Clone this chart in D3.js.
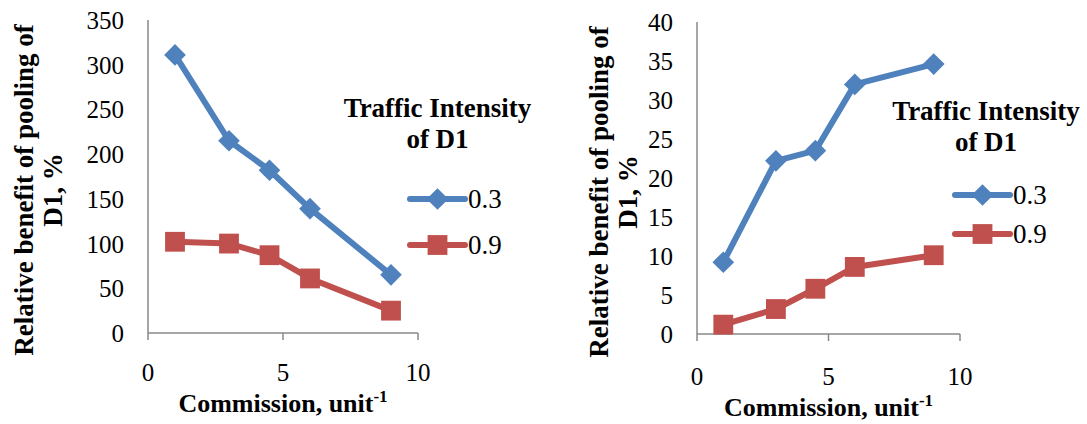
<!DOCTYPE html>
<html>
<head>
<meta charset="utf-8">
<script src="https://cdn.jsdelivr.net/npm/d3@7"></script>
<style>
  body { margin: 0; background: #fff; }
</style>
</head>
<body>
<div id="chart"></div>
<script>
const commission = [1, 3, 4.5, 6, 9];
const seriesNames = ["0.3", "0.9"];
// left panel
const leftLow = [311, 215, 182, 139, 65];
const leftHigh = [102, 100, 87, 61, 25];
const leftTicks = [0, 50, 100, 150, 200, 250, 300, 350];
// right panel
const rightLow = [9.2, 22.2, 23.5, 32, 34.6];
const rightHigh = [1.2, 3.2, 5.8, 8.6, 10.1];
const rightTicks = [0, 5, 10, 15, 20, 25, 30, 35, 40];
const xTicks = [0, 5, 10];

const colors = ["#4F81BD", "#C0504D"];
const serif = "Liberation Serif";

const svg = d3.select("#chart").append("svg")
  .attr("width", 1087).attr("height", 424);

const diamond = d3.symbol(d3.symbolDiamond2, 300);
const square = d3.symbol(d3.symbolSquare2, 500);

function label(sel, size, bold) {
  return sel.attr("font-family", serif).attr("font-size", size)
    .attr("font-weight", bold ? "bold" : "normal");
}

function panel(opt) {
  const g = svg.append("g");
  const x = d3.scaleLinear().domain([0, 10]).range([opt.x0, opt.x1]);
  const y = d3.scaleLinear().domain([0, opt.yMax]).range([opt.y0, opt.y1]);

  // axes
  g.append("line").attr("x1", x(0)).attr("x2", x(0))
    .attr("y1", y(opt.yMax)).attr("y2", y(0))
    .attr("stroke", "#888").attr("stroke-width", 1.5);
  g.append("line").attr("x1", x(0)).attr("x2", x(10))
    .attr("y1", y(0)).attr("y2", y(0))
    .attr("stroke", "#888").attr("stroke-width", 1.5);
  g.selectAll(".xt").data(xTicks).enter().append("line")
    .attr("x1", d => x(d)).attr("x2", d => x(d))
    .attr("y1", y(0)).attr("y2", y(0) + 7)
    .attr("stroke", "#888").attr("stroke-width", 1.5);

  label(g.selectAll(".xl").data(xTicks).enter().append("text"), 25)
    .attr("x", d => x(d)).attr("y", y(0) + opt.xLabDy)
    .attr("text-anchor", "middle")
    .text(d => d);
  label(g.selectAll(".yl").data(opt.ticks).enter().append("text"), 25)
    .attr("x", x(0) - 24).attr("y", d => y(d) + 9)
    .attr("text-anchor", "end")
    .text(d => d);

  // axis titles
  const xt = label(g.append("text"), 26, true)
    .attr("x", (x(0) + x(10)) / 2).attr("y", y(0) + opt.xTitleDy)
    .attr("text-anchor", "middle");
  xt.append("tspan").text("Commission, unit");
  xt.append("tspan").attr("dy", -10).attr("font-size", 17).text("-1");

  const yt = label(g.append("text"), 27, true)
    .attr("transform", `translate(${opt.yTitleX},${opt.yTitleY}) rotate(-90)`)
    .attr("text-anchor", "middle");
  yt.append("tspan").attr("x", 0).attr("dy", 0).text("Relative benefit of pooling of");
  yt.append("tspan").attr("x", 0).attr("dy", 29).text("D1, %");

  // series
  const sets = [opt.low, opt.high];
  const line = d3.line().x((d, i) => x(commission[i])).y(d => y(d));
  sets.forEach((vals, k) => {
    g.append("path").datum(vals).attr("d", line)
      .attr("fill", "none").attr("stroke", colors[k]).attr("stroke-width", 6)
      .attr("stroke-linejoin", "round");
    g.selectAll(".m" + k).data(vals).enter().append("path")
      .attr("d", k === 0 ? diamond : square)
      .attr("transform", (d, i) => `translate(${x(commission[i])},${y(d)})`)
      .attr("fill", colors[k]);
  });

  // legend
  const lg = g.append("g");
  label(lg.append("text"), 27, true).attr("x", opt.legX + opt.titleDx).attr("y", opt.legY)
    .attr("text-anchor", "middle")
    .text("Traffic Intensity");
  label(lg.append("text"), 27, true).attr("x", opt.legX + opt.titleDx).attr("y", opt.legY + 31)
    .attr("text-anchor", "middle")
    .text("of D1");
  seriesNames.forEach((s, k) => {
    const ly = opt.legY + opt.legRow0 + k * opt.legGap;
    lg.append("line").attr("x1", opt.legX).attr("x2", opt.legX + 55)
      .attr("y1", ly).attr("y2", ly)
      .attr("stroke", colors[k]).attr("stroke-width", 6).attr("stroke-linecap", "round");
    lg.append("path").attr("d", k === 0 ? diamond : square)
      .attr("transform", `translate(${opt.legX + 27.5},${ly})`).attr("fill", colors[k]);
    label(lg.append("text"), 27).attr("x", opt.legX + 58).attr("y", ly + 9)
      .text(s);
  });
}

panel({ x0: 148, x1: 418, y0: 333, y1: 20, yMax: 350, ticks: leftTicks,
  low: leftLow, high: leftHigh, yTitleX: 33, yTitleY: 190,
  xLabDy: 48, xTitleDy: 79,
  legX: 410, legY: 117, titleDx: 27.5, legRow0: 82, legGap: 46 });
panel({ x0: 697, x1: 960, y0: 334, y1: 22, yMax: 40, ticks: rightTicks,
  low: rightLow, high: rightHigh, yTitleX: 608, yTitleY: 192,
  xLabDy: 51, xTitleDy: 82,
  legX: 955, legY: 120, titleDx: 31, legRow0: 75, legGap: 39 });
</script>
</body>
</html>
